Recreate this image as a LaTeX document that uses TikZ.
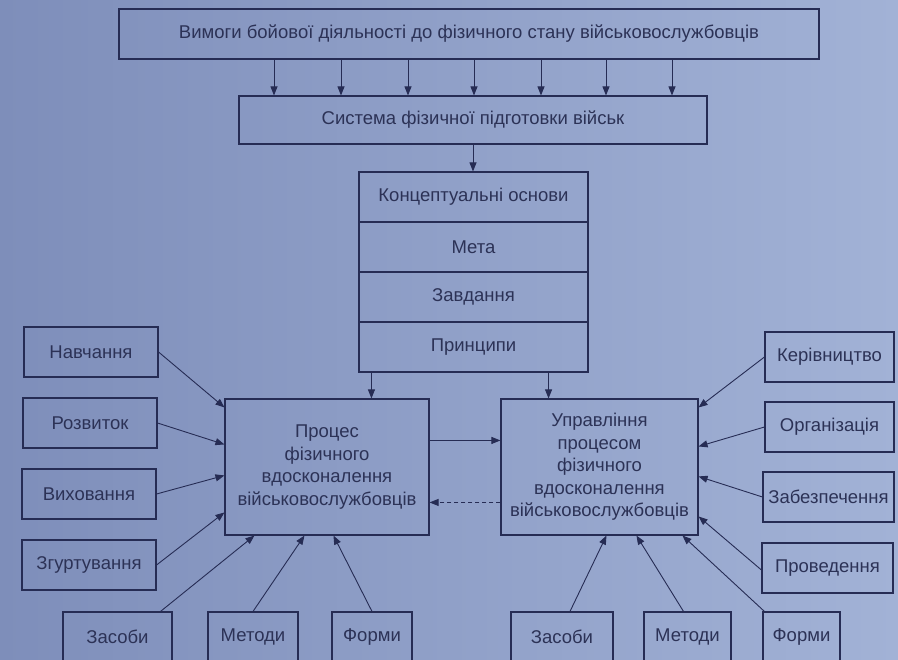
\documentclass[tikz,border=0pt]{standalone}
\usepackage{fontspec}
\setmainfont{Liberation Sans}
\usetikzlibrary{arrows.meta,calc}
\definecolor{pagebg}{RGB}{162,178,214}
\definecolor{pageshade}{RGB}{126,142,186}
\definecolor{ink}{RGB}{38,44,84}
\definecolor{inktext}{RGB}{44,50,86}
\begin{document}
\begin{tikzpicture}[x=1pt,y=-1pt,
  box/.style={draw=ink,line width=1.1pt,inner sep=0pt,align=center,text=inktext,font=\fontsize{18.5}{22.5}\selectfont},
  arr/.style={draw=ink,line width=0.9pt,-{Triangle[length=9pt,width=7pt]}},
  dasharr/.style={arr,dash pattern=on 4pt off 3pt}]
\path[use as bounding box] (0,0) rectangle (898,660);
\fill[left color=pageshade,right color=pagebg] (0,0) rectangle (898,660);
% top of the scheme
\node[box,minimum width=700pt,minimum height=50pt] (req) at (469,34) {Вимоги бойової діяльності до фізичного стану військовослужбовців};
\node[box,minimum width=468pt,minimum height=48pt] (sys) at (473,120) {Система фізичної підготовки військ};
\foreach \dx in {274,341,408,474,541,606,672}
  \draw[arr] (req.south west -| \dx,0) -- (sys.north -| \dx,0);
% concept stack
\node[box,minimum width=229pt,minimum height=50pt] (concept) at (473.5,197) {Концептуальні основи};
\node[box,minimum width=229pt,minimum height=50pt] (goal) at (473.5,247) {Мета};
\node[box,minimum width=229pt,minimum height=50pt] (tasks) at (473.5,297) {Завдання};
\node[box,minimum width=229pt,minimum height=50pt] (princ) at (473.5,347) {Принципи};
\draw[arr] (sys.south) -- (sys.south |- concept.north);
% two main blocks
\node[box,minimum width=204pt,minimum height=136pt] (proc) at (327,467) {Процес\\фізичного\\вдосконалення\\військовослужбовців};
\node[box,minimum width=197pt,minimum height=136pt] (mgmt) at (599.5,467) {Управління\\процесом\\фізичного\\вдосконалення\\військовослужбовців};
\draw[arr] ([xshift=13pt]princ.south west) -- ([xshift=13pt]princ.south west |- proc.north);
\draw[arr] ([xshift=-40pt]princ.south east) -- ([xshift=-40pt]princ.south east |- mgmt.north);
\draw[arr] ([yshift=-42pt]proc.north east) -- ([yshift=-42pt]proc.north east -| mgmt.west);
\draw[dasharr] ([yshift=-104pt]mgmt.north west) -- ([yshift=-104pt]mgmt.north west -| proc.east);
% left column
\node[box,minimum width=134pt,minimum height=50pt] (learn) at (91,352) {Навчання};
\node[box,minimum width=134pt,minimum height=50pt] (dev) at (90,423) {Розвиток};
\node[box,minimum width=134pt,minimum height=50pt] (edu) at (89,494) {Виховання};
\node[box,minimum width=134pt,minimum height=50pt] (unity) at (89,565) {Згуртування};
\draw[arr] (learn.east) -- ([yshift=-9pt]proc.north west);
\draw[arr] (dev.east) -- ([yshift=-46pt]proc.north west);
\draw[arr] (edu.east) -- ([yshift=-77pt]proc.north west);
\draw[arr] (unity.east) -- ([yshift=-114pt]proc.north west);
% bottom left
\node[box,minimum width=109pt,minimum height=50pt] (toolsL) at (117.5,637) {Засоби};
\node[box,minimum width=90pt,minimum height=50pt] (methL) at (253,637) {Методи};
\node[box,minimum width=80pt,minimum height=50pt] (formL) at (372,637) {Форми};
\draw[arr] ([xshift=43pt]toolsL.north) -- ([xshift=30pt]proc.south west);
\draw[arr] (methL.north) -- ([xshift=80pt]proc.south west);
\draw[arr] (formL.north) -- ([xshift=109pt]proc.south west);
% right column
\node[box,minimum width=129pt,minimum height=50pt] (lead) at (829.5,357) {Керівництво};
\node[box,minimum width=129pt,minimum height=50pt] (org) at (829.5,427) {Організація};
\node[box,minimum width=131pt,minimum height=50pt] (supp) at (828.5,497) {Забезпечення};
\node[box,minimum width=131pt,minimum height=50pt] (cond) at (827.5,568) {Проведення};
\draw[arr] (lead.west) -- ([yshift=-9pt]mgmt.north east);
\draw[arr] (org.west) -- ([yshift=-48pt]mgmt.north east);
\draw[arr] (supp.west) -- ([yshift=-78pt]mgmt.north east);
\draw[arr] ([yshift=-2pt]cond.west) -- ([yshift=-118pt]mgmt.north east);
% bottom right
\node[box,minimum width=102pt,minimum height=50pt] (toolsR) at (562,637) {Засоби};
\node[box,minimum width=87pt,minimum height=50pt] (methR) at (687.5,637) {Методи};
\node[box,minimum width=77pt,minimum height=50pt] (formR) at (801.5,637) {Форми};
\draw[arr] ([xshift=8pt]toolsR.north) -- ([xshift=106pt]mgmt.south west);
\draw[arr] ([xshift=-4pt]methR.north) -- ([xshift=136pt]mgmt.south west);
\draw[arr] ([xshift=2pt]formR.north west) -- ([xshift=182pt]mgmt.south west);
\end{tikzpicture}
\end{document}
